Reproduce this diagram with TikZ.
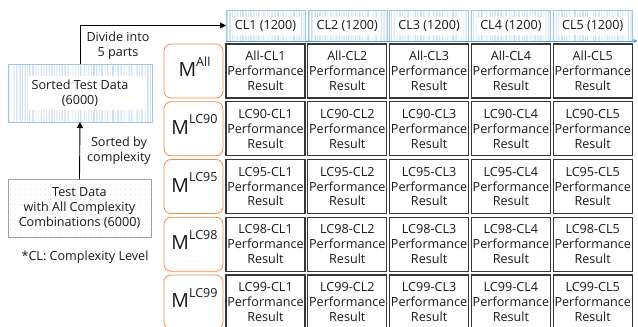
\documentclass[tikz,border=0pt]{standalone}
\usepackage{fontspec}
\setmainfont{Open Sans}
\usetikzlibrary{arrows.meta}
\definecolor{barblue}{RGB}{170,204,236}
\definecolor{edgeblue}{RGB}{160,198,232}
\definecolor{axisblue}{RGB}{91,155,213}
\definecolor{mborder}{RGB}{240,140,70}
\definecolor{cellline}{RGB}{55,55,55}
\definecolor{ink}{RGB}{25,25,25}
\tikzset{
  x=1pt, y=-1pt,
  every node/.style={text=ink, inner sep=0pt, outer sep=0pt},
  txt/.style={font=\fontsize{12.6}{14.8}\selectfont, align=center},
  barcode/.style={draw=edgeblue, line width=0.5pt, path picture={
    \foreach \k in {0,...,95}{
      \pgfmathsetmacro{\op}{0.1+0.55*rnd}
      \pgfmathsetmacro{\lw}{0.3+0.7*rnd}
      \draw[draw=barblue, opacity=\op, line width=\lw pt]
        ([xshift=\k*1.6pt]path picture bounding box.south west) --
        ([xshift=\k*1.6pt]path picture bounding box.north west);
    }}},
  dotted box/.style={draw=gray!75, line width=0.7pt, path picture={
    \foreach \i in {0,...,30}{
      \foreach \j in {0,...,12}{
        \fill[gray!35] ([xshift=\i*5pt+2.5pt, yshift=\j*5pt+2.5pt]path picture bounding box.south west) circle (0.35pt);
      }}}},
  whitepad/.style={fill=white},
  modelbox/.style={draw=mborder, line width=0.8pt, rounded corners=7pt,
    minimum width=59pt, minimum height=54pt},
  mlabel/.style={anchor=base},
  cellbox/.style={draw=cellline, line width=1.1pt, minimum width=79pt, minimum height=54pt, txt},
  clbox/.style={barcode, minimum width=79pt, minimum height=31pt},
  flow/.style={draw=black, line width=0.9pt, -{Triangle[length=6pt,width=6pt]}},
}
\begin{document}
\begin{tikzpicture}
\pgfmathsetseed{11}
\useasboundingbox (0,0) rectangle (638,327);

% left side: input data and sorted data
\node[barcode, minimum width=144pt, minimum height=58pt] (sorted) at (80,93) {};
\node[whitepad, minimum width=119pt, minimum height=34pt] (sortedpad) at (87,93) {};
\node[txt] (sortedtxt) at (80,93.5) {Sorted Test Data\\(6000)};

\node[dotted box, minimum width=143pt, minimum height=58pt] (testdata) at (79.5,208) {};
\node[txt] (testtxt) at (79.5,208) {Test Data\\with All Complexity\\Combinations (6000)};

\node[txt] (divide) at (118,46) {Divide into\\5 parts};
\node[txt] (sortby) at (119,150.5) {Sorted by\\complexity};
\node[txt] (legend) at (85,257) {*CL: Complexity Level};

% complexity-level partitions
\foreach \c in {1,...,5}{
  \pgfmathsetmacro{\cx}{265.5+81.8*(\c-1)}
  \node[clbox] (cl\c) at (\cx,25.5) {};
  \node[whitepad, minimum width=68pt, minimum height=18pt] (clpad\c) at (\cx,26) {};
  \node[txt] (cltxt\c) at (\cx,26) {CL\c\ (1200)};
}
\coordinate (axisend) at (637.5,41);
\draw[draw=axisblue, line width=0.8pt, -{Triangle[length=4pt,width=4pt]}] (cl1.south west) -- (axisend);

% models and result grid
\foreach \m [count=\r] in {All,LC90,LC95,LC98,LC99}{
  \pgfmathsetmacro{\ry}{71+57.75*(\r-1)}
  \node[modelbox] (m\r) at (193.5,\ry) {};
  \node[mlabel] (mlab\r) at (194.5,\ry+5.5)
    {{\fontsize{19.5}{19.5}\selectfont M}\raisebox{10.5pt}{\fontsize{12.5}{12.5}\selectfont \m}};
  \foreach \c in {1,...,5}{
    \pgfmathsetmacro{\cx}{265.5+81.8*(\c-1)}
    \node[cellbox] (cell\r\c) at (\cx,\ry) {\m-CL\c\\Performance\\Result};
  }
}

% data flow
\draw[flow] (sorted.north) |- (cl1.west);
\draw[flow] (testdata.north) -- (sorted.south);
\end{tikzpicture}
\end{document}
